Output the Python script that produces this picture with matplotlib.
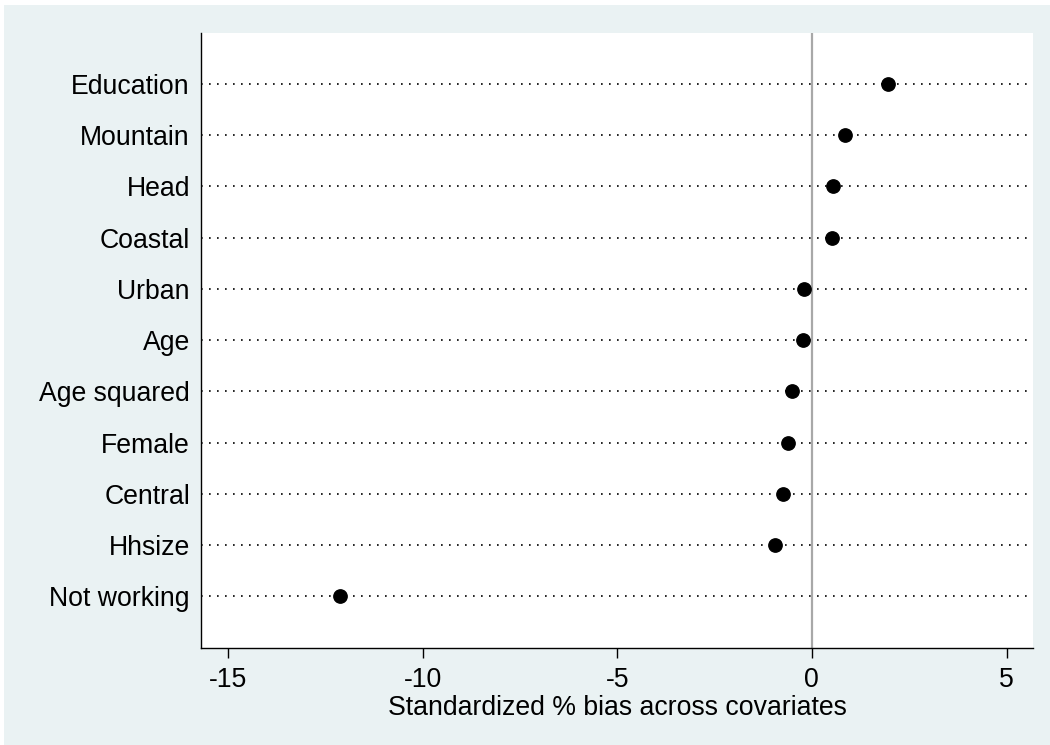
import matplotlib
matplotlib.use("Agg")
import matplotlib.pyplot as plt
from matplotlib.patches import Rectangle

covariates = ["Education", "Mountain", "Head", "Coastal", "Urban", "Age",
              "Age squared", "Female", "Central", "Hhsize", "Not working"]
bias = [1.96, 0.86, 0.55, 0.51, -0.21, -0.23, -0.50, -0.61, -0.74, -0.95, -12.12]
xticks = [-15, -10, -5, 0, 5]
xlabel = "Standardized % bias across covariates"

plt.rcParams['font.family'] = ['Liberation Sans', 'DejaVu Sans']

W, H = 1050, 745
fig = plt.figure(figsize=(W / 100, H / 100), dpi=100)
fig.patch.set_facecolor("white")
bg = Rectangle((4 / W, 0), 1 - 4 / W, 1 - 5 / H, transform=fig.transFigure,
               facecolor="#EAF2F3", edgecolor="none", zorder=-10)
fig.patches.append(bg)

ax = fig.add_axes([201 / W, 1 - 647.7 / H, (1033 - 201) / W, (647.7 - 32.7) / H])
ax.set_zorder(5)
ax.set_facecolor("white")

n = len(covariates)
ypos = list(range(n, 0, -1))

for y in ypos:
    ax.axhline(y, color="black", linewidth=1.2, linestyle=(0, (1, 3.8)), zorder=1)
ax.axvline(0, color="#A8A8A8", linewidth=1.6, zorder=2)
ax.plot(bias, ypos, linestyle="none", marker="o", markersize=9.6,
        color="black", zorder=3)

fs = 19.2
ax.set_xlim(-15.69, 5.68)
ax.set_ylim(0, n + 1)
ax.set_xticks(xticks)
ax.set_xticklabels([str(t) for t in xticks])
ax.set_yticks(ypos)
ax.set_yticklabels(covariates)
ax.tick_params(axis="x", length=7, width=1, pad=7, labelsize=fs, color="black")
ax.tick_params(axis="y", length=0, pad=8, labelsize=fs)
ax.set_xlabel(xlabel, fontsize=fs, labelpad=1.5)

for s in ["top", "right"]:
    ax.spines[s].set_visible(False)
for s in ["left", "bottom"]:
    ax.spines[s].set_linewidth(1.0)
    ax.spines[s].set_color("black")

fig.savefig("out.png", dpi=100, facecolor=fig.get_facecolor())
